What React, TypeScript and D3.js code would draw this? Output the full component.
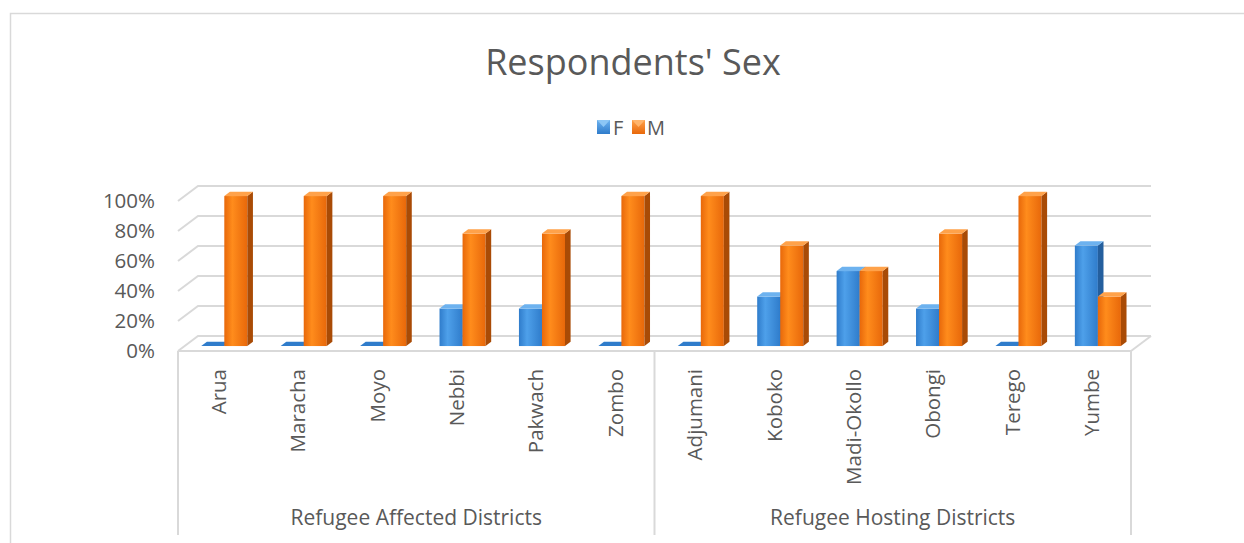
import React from "react";
import * as d3 from "d3";

const categories = [
  "Arua", "Maracha", "Moyo", "Nebbi", "Pakwach", "Zombo",
  "Adjumani", "Koboko", "Madi-Okollo", "Obongi", "Terego", "Yumbe",
];
const groups = [
  { name: "Refugee Affected Districts", from: 0, to: 6 },
  { name: "Refugee Hosting Districts", from: 6, to: 12 },
];
const femaleShare = [0, 0, 0, 25, 25, 0, 0, 33, 50, 25, 0, 67];
const maleShare = [100, 100, 100, 75, 75, 100, 100, 67, 50, 75, 100, 33];
const seriesNames = ["F", "M"];
const yTicks = [0, 20, 40, 60, 80, 100];

const W = 1244;
const H = 543;
const FONT = "'Open Sans', 'Liberation Sans', sans-serif";
const TEXT = "#595959";
const GRID = "#d9d9d9";

// plot frame (front edge) and 3D depth offset
const x0 = 178, x1 = 1131;
const yFront0 = 351, yFront100 = 201;
const DX = 20, DY = -15;
// bars sit partway into the floor depth
const barOff = 0.33, barDepth = 0.28;

const palette = {
  F: { front: ["#4ea0ea", "#2f7ccb"], side: "#245f9e", top: "#6db2ef" },
  M: { front: ["#ff8c1c", "#e8680a"], side: "#a94b06", top: "#ffa24a" },
};

export default function App() {
  const xBand = d3.scaleBand<string>().domain(categories).range([x0, x1])
    .paddingInner(0.42).paddingOuter(0.21);
  const xSeries = d3.scaleBand<string>().domain(seriesNames).range([0, xBand.bandwidth()]);
  const yFront = d3.scaleLinear().domain([0, 100]).range([yFront0, yFront100]);
  const step = xBand.step();

  const bdx = DX * barOff, bdy = DY * barOff;
  const ddx = DX * barDepth, ddy = DY * barDepth;

  const bars: JSX.Element[] = [];
  categories.forEach((c, i) => {
    [femaleShare[i], maleShare[i]].forEach((v, s) => {
      const name = seriesNames[s] as "F" | "M";
      const p = palette[name];
      const left = (xBand(c) as number) + (xSeries(name) as number) + bdx;
      const right = left + xSeries.bandwidth();
      const base = yFront(0) + bdy;
      const top = yFront(v) + bdy;
      const h = base - top;
      bars.push(
        <g key={`${c}-${name}`}>
          {h > 0 && (
            <rect x={left} y={top} width={right - left} height={h}
              fill={`url(#grad-${name})`} />
          )}
          {h > 0 && (
            <path d={`M${right},${base} L${right},${top} L${right + ddx},${top + ddy} L${right + ddx},${base + ddy} Z`}
              fill={p.side} />
          )}
          <path d={`M${left},${top} L${right},${top} L${right + ddx},${top + ddy} L${left + ddx},${top + ddy} Z`}
            fill={h > 0 ? p.top : p.front[1]} />
        </g>
      );
    });
  });

  return (
    <svg width={W} height={H} style={{ position: "absolute", left: 0, top: 0, background: "#fff" }}
      fontFamily={FONT}>
      <defs>
        {seriesNames.map((n) => {
          const p = palette[n as "F" | "M"];
          return (
            <linearGradient key={n} id={`grad-${n}`} x1="0" y1="0" x2="1" y2="0">
              <stop offset="0" stopColor={p.front[1]} />
              <stop offset="0.35" stopColor={p.front[0]} />
              <stop offset="1" stopColor={p.front[1]} />
            </linearGradient>
          );
        })}
        {seriesNames.map((n) => {
          const p = palette[n as "F" | "M"];
          return (
            <linearGradient key={n} id={`leg-${n}`} x1="0" y1="0" x2="0" y2="1">
              <stop offset="0" stopColor={p.top} />
              <stop offset="1" stopColor={p.front[1]} />
            </linearGradient>
          );
        })}
      </defs>

      {/* chart area border */}
      <path d={`M10.5,${H} L10.5,13.5 L${W},13.5`} fill="none" stroke={GRID} strokeWidth={1.5} />

      {/* title */}
      <text x={633} y={75} textAnchor="middle" fontSize={36} fill={TEXT}>Respondents' Sex</text>

      {/* legend */}
      <g>
        <rect x={597} y={120} width={13} height={14} fill={`url(#leg-F)`} />
        <path d="M597,120 L610,120 L603.5,127 Z" fill="#8cc6f5" />
        <text x={613} y={135} fontSize={20} fill={TEXT}>F</text>
        <rect x={632} y={120} width={13} height={14} fill={`url(#leg-M)`} />
        <path d="M632,120 L645,120 L638.5,127 Z" fill="#ffb46b" />
        <text x={647} y={135} fontSize={20} fill={TEXT}>M</text>
      </g>

      {/* floor, back-wall gridlines and left-wall diagonals */}
      {yTicks.map((t) => {
        const yf = yFront(t);
        return (
          <path key={t} d={`M${x0},${yf} L${x0 + DX},${yf + DY} L${x1 + DX},${yf + DY}`}
            fill="none" stroke={GRID} strokeWidth={2} />
        );
      })}
      <line x1={x0} x2={x1} y1={yFront0} y2={yFront0} stroke={GRID} strokeWidth={2} />
      <line x1={x1} x2={x1 + DX} y1={yFront0} y2={yFront0 + DY} stroke={GRID} strokeWidth={2} />

      {/* y tick labels */}
      {yTicks.map((t) => (
        <text key={t} x={155} y={yFront(t)} dy="0.35em" textAnchor="end" fontSize={20.5} fill={TEXT}>
          {`${t}%`}
        </text>
      ))}

      {bars}

      {/* category labels */}
      {categories.map((c) => {
        const cx = (xBand(c) as number) + xBand.bandwidth() / 2;
        return (
          <text key={c} transform={`translate(${cx + 8},369) rotate(-90)`} textAnchor="end"
            fontSize={20.5} fill={TEXT}>{c}</text>
        );
      })}

      {/* group axis */}
      {groups.map((g) => {
        const gx0 = x0 + g.from * step;
        const gx1 = x0 + g.to * step;
        return (
          <text key={g.name} x={(gx0 + gx1) / 2} y={525} textAnchor="middle" fontSize={21} fill={TEXT}>
            {g.name}
          </text>
        );
      })}
      {[0, 6, 12].map((k) => (
        <line key={k} x1={x0 + k * step} x2={x0 + k * step} y1={yFront0} y2={535}
          stroke={GRID} strokeWidth={2} />
      ))}
    </svg>
  );
}
